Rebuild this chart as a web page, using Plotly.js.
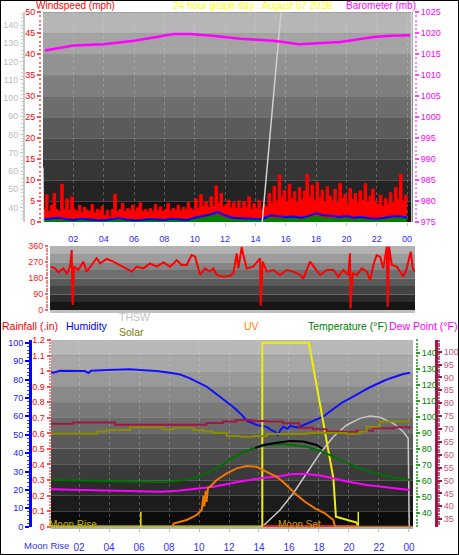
<!DOCTYPE html>
<html><head><meta charset="utf-8">
<script src="https://cdn.plot.ly/plotly-3.0.1.min.js"></script>
<style>html,body{margin:0;padding:0;background:#fff}#chart{width:459px;height:555px}</style>
</head><body><div id="chart"></div>
<script>
// ---------------- DATA ----------------
const hourTicks = [2,4,6,8,10,12,14,16,18,20,22,24];
const hourLabels = ['02','04','06','08','10','12','14','16','18','20','22','00'];

// Wind gust (mph), one value per 10 minutes from 00:00
const gustVals = [
 3,6.5,2.5,4,6.8,3,
 2.5,9,3,5.5,2.8,6,
 3,2.5,4,2.2,3.5,2.8,
 2.5,4.2,2.2,3,2.6,3.8,
 1.5,2.8,1.2,3,6.6,2.4,
 3,4.5,2.5,3.2,2.8,4,
 2.6,3.4,4.6,2.5,3,2.4,
 3.2,2.6,4.2,2.8,3.6,2.5,
 3,4.4,2.6,3.2,2.8,4,
 2.7,3.5,2.9,4.6,3.3,2.8,
 5.5,3.2,6.5,3.8,4.8,3.5,
 6,3.8,8.6,4.5,6.8,3.6,
 4.2,5.2,3.4,4.6,3.2,5,
 3.2,4.8,3.5,6,3,4.4,
 3.3,5.2,3,4.2,3.6,6.8,
 4.5,8.5,5,11.2,6,7.5,
 4.8,9,5.5,7.2,4.6,8.2,
 5.2,7.4,11.4,6,8.8,5,
 9.5,5.8,7.6,4.8,8.4,6.2,
 5,7.8,4.6,9.2,5.6,6.6,
 4.4,8,5.4,6.8,4.6,7.4,
 5.2,9.1,4.8,6.2,7.8,5,
 4.2,6.4,3.8,5.6,4.4,7,
 4.6,8.2,5.4,11.4,5,6.4,
 4.5];

// Average wind speed (mph) and low wind, one value per 30 minutes
const windAvgVals = [0.6,0.8,1.0,0.7,0.5,0.8,0.6,0.5,0.4,0.7,0.9,0.6,0.4,0.5,0.7,0.6,0.5,0.8,0.6,0.5,
 1.0,1.4,1.8,2.4,1.6,1.0,0.9,0.8,0.7,0.8,1.6,1.4,1.2,1.3,1.0,1.4,2.1,1.6,1.5,1.2,1.4,1.0,1.2,0.9,0.8,1.0,1.3,1.4,1.1];
const windLowVals = [0.4,0.6,0.5,0.3,0.4,0.5,0.3,0.2,0.3,0.5,0.4,0.3,0.2,0.4,0.3,0.5,0.3,0.4,0.3,0.5,
 0.7,0.9,1.4,1.7,1.0,0.6,0.5,0.5,0.4,0.5,1.0,0.8,0.7,0.9,0.6,1.0,1.4,1.0,0.9,0.7,0.9,0.6,0.8,0.5,0.4,0.6,0.9,1.0,0.7];

// Barometer (mb)
const baroTimes = [0.13,2,4,6,7.3,8.6,9.7,11.2,13,15.2,16.9,18.5,19.6,20.7,21.8,22.9,24.2];
const baroVals  = [1015.9,1017.1,1017.4,1018.2,1019.0,1019.8,1019.8,1019.4,1018.7,1018.2,1017.4,1017.7,1017.9,1018.5,1019.1,1019.4,1019.5];

// Grey series on the outer left scale of the top panel
const topGreyTimes = [0,0.06,14.3,14.44,15.69,15.8,24.28,24.32];
const topGreyVals  = [62,10,10,31,147,170,170,10];

// Wind direction (degrees)
const dirTimes = [0.04,0.33,0.55,0.88,1.11,1.33,1.44,1.50,1.59,1.88,2.21,2.43,2.76,3.09,3.32,3.76,4.20,4.64,5.08,5.42,5.75,6.19,6.63,7.07,7.52,7.96,8.40,8.73,9.06,9.39,9.62,9.84,9.95,10.28,10.61,10.83,11.05,11.49,11.94,12.16,12.27,12.38,12.49,12.71,12.82,13.04,13.48,13.93,13.97,14.10,14.37,14.81,15.25,15.69,16.14,16.58,16.80,17.24,17.57,17.90,18.35,18.79,19.12,19.45,19.78,19.89,19.92,20.07,20.34,20.67,21.0,21.22,21.44,21.66,21.88,22.10,22.33,22.39,22.48,22.66,22.99,23.21,23.43,23.65,23.92,24.05,24.20];
const dirVals  = [244,234,212,234,206,244,337,28,244,225,272,216,253,291,262,287,272,253,234,216,244,234,262,244,268,244,281,253,253,309,300,234,197,234,216,234,197,187,193,206,272,319,234,353,309,234,244,291,24,272,216,225,197,225,216,197,178,272,234,197,225,225,187,225,197,319,9,206,197,234,216,169,253,309,300,234,356,19,356,253,244,216,187,234,328,234,216];

// Bottom panel
const humTimes = [0.13,0.29,0.73,1.62,2.4,2.62,2.8,3.84,4.73,5.4,6.07,6.6,7.18,8.07,8.73,9.4,9.96,10.5,10.96,11.4,11.85,12.2,12.51,12.85,13.18,13.5,13.85,14.2,14.51,14.8,15.07,15.25,15.45,15.62,15.9,16.1,16.29,16.6,16.96,17.3,17.62,17.95,18.29,18.7,19.18,19.6,20.07,20.5,20.96,21.4,21.85,22.3,22.73,23.2,23.62,24.07];
const humVals  = [84.0,83.7,84.8,84.8,84.6,83.5,84.8,85.2,85.5,85.6,85.2,85.0,84.6,83.7,82.8,80.6,78.5,76.2,73.4,70.8,67.9,65.6,63.4,60.8,57.6,56.5,55.3,54.8,54.3,52.6,51.6,49.8,52.8,54.3,53.2,55.0,54.3,54.0,55.3,56.3,57.6,58.6,59.8,62.5,65.6,67.8,69.8,71.9,73.9,75.8,77.6,79.2,80.6,81.9,83.0,83.7];

const tempTimes = [0.13,2,4,5.5,7.4,8.29,9.18,10.07,10.96,11.85,12.73,13.62,14.51,15.4,16.29,17.18,18.07,18.96,19.85,20.73,21.62,22.51,23.4,24.07];
const tempVals  = [60.8,60.6,60.2,59.8,59.4,59.8,61.2,63.3,67.1,72.3,77.1,80.6,82.7,83.3,82.7,81.6,79.1,75.4,71.6,68.1,65.4,63.3,61.9,60.8];

const heatTimes = [13.75,14.29,15.18,16.07,16.96,17.84,18.24];
const heatVals  = [80.9,82.7,84.1,85.2,84.8,82.7,80.4];

const dewTimes = [0.13,2,4,6,7.4,8.6,9.18,10.96,12.73,14.07,15.4,16.29,17.18,18.07,18.96,19.85,21.18,22.51,24.07];
const dewVals  = [55.0,54.7,54.1,53.6,53.5,54.1,54.8,56.6,59.8,61.9,63.3,64.6,64.6,63.6,61.9,59.8,57.7,56.2,54.6];

const indoorTimes = [0.13,1.5,1.6,4.3,4.4,9,10.5,11.6,12.5,13.5,14.5,15.6,16.7,17.6,18.5,19.6,20.5,21.6,23,24.1];
const indoorVals  = [72.0,72.0,72.5,72.5,71.6,71.6,72.3,72.9,73.5,73.1,72.9,72.2,70.5,69.9,69.0,68.8,69.3,70.3,70.7,70.9];

const solarTimes = [0.13,2.73,3.18,3.84,5.4,7.4,7.62,8.29,9.62,10.29,10.96,11.85,12.73,13.62,14.51,17.18,19.85,20.73,21.18,22.07,24.07];
const solarVals  = [68.1,68.1,69.0,69.6,70.7,70.7,69.9,70.5,69.6,69.0,68.4,67.3,67.0,67.3,68.0,68.4,68.1,69.0,70.9,72.9,72.9];

const uvTimes = [8.25,8.3,9.18,9.4,9.84,10.18,10.3,10.35,10.45,10.5,10.6,10.73,11.18,11.85,12.51,13.18,13.85,14.51,15.18,15.73,16.4,17.07,17.73,18.4,18.96,19.07,24.27];
const uvVals  = [0,0.2,0.43,0.54,0.75,1.07,2.0,1.3,2.3,1.6,2.5,2.57,3.0,3.43,3.75,3.9,3.85,3.53,3.21,2.78,2.14,1.6,1.18,0.86,0.43,0,0];

const thswTimes = [14.22,15.4,16.29,17.18,18.07,18.96,19.85,20.73,21.4,22.07,22.96,23.62,23.95,24.02];
const thswVals  = [0,9.1,18.2,29.0,39.9,48.9,55.3,58.9,60.2,59.5,56.2,51.6,48.0,0];

const moonTimes = [14.22,14.22,17.33,18.96,19.13,20.51,20.62];
const moonVals  = [0,100,100,26.3,5.4,2.2,0];

const moonUpSpan   = [0.13,20.62];
const moonSetSpan  = [14.27,20.62];
const moonEventTimes = [6.12,20.62];
const rainVals = [0,0];

// ---------------- LAYOUT HELPERS ----------------
const W = 459, H = 555;
const px = x => x / W;
const py = y => 1 - y / H;
const gustTimes = gustVals.map((_, i) => i / 6);
const halfHour = windAvgVals.map((_, i) => i / 2);

function bands(xr, yr, n, top, bottom) {
  const s = [];
  for (let i = 0; i < n; i++) {
    const g = Math.round(top + (bottom - top) * i / (n - 1));
    s.push({type:'rect', xref:xr, yref:yr, x0:0, x1:1, y0:1-(i+1)/n, y1:1-i/n,
            fillcolor:`rgb(${g},${g},${g})`, line:{width:0}, layer:'below'});
  }
  return s;
}
const F = 'Arial, "Liberation Sans", sans-serif';
function ann(text, x, y, color, size, xanchor) {
  return {text, x:px(x), y:py(y), xref:'paper', yref:'paper', showarrow:false,
          xanchor:xanchor||'left', yanchor:'middle', font:{family:F, color, size}};
}

const traces = [
  // top panel
  {x:gustTimes, y:gustVals, type:'scatter', mode:'lines', line:{color:'#ff0000', width:1, shape:'hv'}, fill:'tozeroy', fillcolor:'#ff0000', xaxis:'x', yaxis:'y'},
  {x:halfHour, y:windLowVals, type:'scatter', mode:'lines', line:{color:'#008000', width:1}, fill:'tozeroy', fillcolor:'#008000', xaxis:'x', yaxis:'y'},
  {x:halfHour, y:windAvgVals, type:'scatter', mode:'lines', line:{color:'#0000ff', width:2}, xaxis:'x', yaxis:'y'},
  {x:baroTimes, y:baroVals, type:'scatter', mode:'lines', line:{color:'#ff00ff', width:2.5}, xaxis:'x', yaxis:'y3'},
  {x:topGreyTimes, y:topGreyVals, type:'scatter', mode:'lines', line:{color:'#d0d0d0', width:1.5}, xaxis:'x', yaxis:'y2'},
  // middle panel
  {x:dirTimes, y:dirVals, type:'scatter', mode:'lines', line:{color:'#ff0000', width:2}, xaxis:'x2', yaxis:'y4'},
  // bottom panel
  {x:indoorTimes, y:indoorVals, type:'scatter', mode:'lines', line:{color:'#a01846', width:2, shape:'hv'}, xaxis:'x3', yaxis:'y9'},
  {x:solarTimes, y:solarVals, type:'scatter', mode:'lines', line:{color:'#8c8c00', width:2, shape:'hv'}, xaxis:'x3', yaxis:'y9'},
  {x:tempTimes, y:tempVals, type:'scatter', mode:'lines', line:{color:'#007000', width:2}, xaxis:'x3', yaxis:'y8'},
  {x:heatTimes, y:heatVals, type:'scatter', mode:'lines', line:{color:'#000000', width:2}, xaxis:'x3', yaxis:'y8'},
  {x:dewTimes, y:dewVals, type:'scatter', mode:'lines', line:{color:'#ff00ff', width:2}, xaxis:'x3', yaxis:'y8'},
  {x:humTimes, y:humVals, type:'scatter', mode:'lines', line:{color:'#1010ff', width:2}, xaxis:'x3', yaxis:'y6'},
  {x:thswTimes, y:thswVals, type:'scatter', mode:'lines', line:{color:'#c8c8c8', width:1.5}, xaxis:'x3', yaxis:'y6'},
  {x:uvTimes, y:uvVals, type:'scatter', mode:'lines', line:{color:'#f07800', width:2}, xaxis:'x3', yaxis:'y10'},
  {x:moonTimes, y:moonVals, type:'scatter', mode:'lines', line:{color:'#f0f000', width:2}, xaxis:'x3', yaxis:'y6'},
  {x:moonUpSpan, y:rainVals, type:'scatter', mode:'lines', line:{color:'#f0f000', width:2.5}, xaxis:'x3', yaxis:'y7'},
  {x:moonSetSpan, y:rainVals, type:'scatter', mode:'lines', line:{color:'#ff0000', width:3}, xaxis:'x3', yaxis:'y7'},
  {x:[moonEventTimes[0],moonEventTimes[0],null,moonEventTimes[1],moonEventTimes[1]], y:[0,0.095,null,0,0.095], type:'scatter', mode:'lines', line:{color:'#e8e800', width:1.5}, xaxis:'x3', yaxis:'y7'}
];

const gridX = {showgrid:true, gridcolor:'rgba(215,215,215,0.3)', griddash:'dot', gridwidth:1, zeroline:false};
const layout = {
  width:W, height:H, margin:{l:0,r:0,t:0,b:0}, paper_bgcolor:'#ffffff', plot_bgcolor:'#202020',
  showlegend:false, font:{family:F},
  xaxis: Object.assign({domain:[px(43),px(413)], range:[0,24.39], anchor:'y', tickmode:'array', tickvals:hourTicks, ticktext:hourLabels,
          tickfont:{color:'#2a2aff', size:9}, ticks:'outside', ticklen:3, tickcolor:'#c0c0c0', ticklabelstandoff:5, showline:false}, gridX),
  yaxis: {domain:[py(222),py(12.3)], range:[0,50], anchor:'free', position:px(41), side:'left', tickmode:'linear', tick0:0, dtick:5,
          ticks:'outside', ticklen:4, tickwidth:2, tickcolor:'#ff5050', tickfont:{color:'#ff0000', size:9},
          minor:{dtick:1, ticklen:2, tickwidth:2, tickcolor:'#ff7070', ticks:'outside', showgrid:false},
          showgrid:true, gridcolor:'rgba(215,215,215,0.25)', zeroline:false, showline:false},
  yaxis2: {overlaying:'y', range:[32.1,147], anchor:'free', position:px(24), side:'left', tickmode:'linear', tick0:40, dtick:10,
          ticks:'outside', ticklen:3, tickcolor:'#c8c8c8', tickfont:{color:'#bdbdbd', size:9}, showline:true, linecolor:'#c8c8c8', linewidth:2,
          minor:{dtick:2, ticklen:2, tickcolor:'#d0d0d0', ticks:'outside', showgrid:false}, showgrid:false, zeroline:false},
  yaxis3: {overlaying:'y', range:[975,1025], anchor:'free', position:px(414), side:'right', tickmode:'linear', tick0:975, dtick:5,
          ticks:'outside', ticklen:4, tickwidth:2, tickcolor:'#ff40ff', tickfont:{color:'#ff00ff', size:9},
          minor:{dtick:1, ticklen:2, tickwidth:2, tickcolor:'#ff80ff', ticks:'outside', showgrid:false}, showgrid:false, zeroline:false},

  xaxis2: Object.assign({domain:[px(50),px(415)], range:[0,24.2], anchor:'y4', tickmode:'array', tickvals:hourTicks, showticklabels:false, ticks:'',
          showline:true, linecolor:'#c0c0c0', linewidth:3}, gridX, {showgrid:false}),
  yaxis4: {domain:[py(310),py(246)], range:[0,360], anchor:'free', position:px(48), side:'left', tickmode:'array', tickvals:[0,90,180,270,360],
          ticks:'outside', ticklen:3, tickwidth:2, tickcolor:'#ff6060', tickfont:{color:'#ff2020', size:9},
          minor:{tickmode:'linear', tick0:0, dtick:15, ticklen:2, ticks:'outside', tickcolor:'#ff8080', showgrid:false},
          showgrid:true, gridcolor:'rgba(215,215,215,0.35)', zeroline:false},
  yaxis5: {overlaying:'y4', range:[0,360], anchor:'free', position:px(425), side:'right', tickmode:'array', tickvals:[0,90,180,270,360],
          ticktext:['N','E','S','W','N'], ticks:'', tickfont:{color:'#ff0000', size:15}, showgrid:false, zeroline:false},

  xaxis3: Object.assign({domain:[px(51),px(413)], range:[0.13,24.27], anchor:'y6', tickmode:'array', tickvals:hourTicks, ticktext:hourLabels,
          tickfont:{color:'#3030ff', size:10}, ticks:'outside', ticklen:3, tickcolor:'#c0c0c0', ticklabelstandoff:7,
          showline:true, linecolor:'#b0b0b0', linewidth:2}, gridX),
  yaxis6: {domain:[py(526.7),py(340)], range:[0,101.5], anchor:'free', position:px(30), side:'left', tickmode:'linear', tick0:0, dtick:10,
          ticks:'outside', ticklen:4, tickwidth:2, tickcolor:'#0000ff', tickfont:{color:'#2020ff', size:9}, showline:true, linecolor:'#0000ff', linewidth:3,
          minor:{dtick:2, ticklen:2, tickwidth:1, ticks:'outside', tickcolor:'#4040ff', showgrid:false}, showgrid:false, zeroline:false},
  yaxis7: {overlaying:'y6', range:[0,1.2], anchor:'free', position:px(50.5), side:'left', tickmode:'linear', tick0:0, dtick:0.1,
          ticks:'outside', ticklen:4, tickwidth:2, tickcolor:'#ff5050', tickfont:{color:'#ff0000', size:9},
          minor:{dtick:0.02, ticklen:2, tickwidth:2, ticks:'outside', tickcolor:'#ff8080', showgrid:false},
          showgrid:true, gridcolor:'rgba(215,215,215,0.25)', zeroline:false},
  yaxis8: {overlaying:'y6', range:[31.6,148.3], anchor:'free', position:px(415), side:'right', tickmode:'linear', tick0:40, dtick:10,
          ticks:'outside', ticklen:4, tickwidth:2, tickcolor:'#30a030', tickfont:{color:'#008000', size:9},
          minor:{dtick:2, ticklen:2, tickwidth:2, ticks:'outside', tickcolor:'#50b050', showgrid:false}, showgrid:false, zeroline:false},
  yaxis9: {overlaying:'y6', range:[32.1,104.5], anchor:'free', position:px(436), side:'right', tickmode:'linear', tick0:35, dtick:5,
          ticks:'outside', ticklen:4, tickwidth:2, tickcolor:'#a01846', tickfont:{color:'#c8507a', size:9}, showline:true, linecolor:'#a01846', linewidth:3,
          minor:{dtick:1, ticklen:2, ticks:'outside', tickcolor:'#c06080', showgrid:false}, showgrid:false, zeroline:false},
  yaxis10: {overlaying:'y6', range:[0,12], visible:false},

  shapes: [].concat(
    bands('x domain','y domain',10,182,18),
    bands('x2 domain','y4 domain',8,178,22),
    bands('x3 domain','y6 domain',12,184,12),
    [{type:'rect', xref:'paper', yref:'paper', x0:0, x1:1, y0:0, y1:1, line:{color:'#000', width:2}, fillcolor:'rgba(0,0,0,0)', layer:'above'}]
  ),
  annotations: [
    ann('Windspeed (mph)', 34, 5, '#ff0000', 10),
    ann('24 hour graph day : August 07 2026', 171, 5, '#ffff00', 10),
    ann('Barometer (mb)', 418, 5, '#ff00ff', 10, 'right'),
    ann('Rainfall (.in)', 0, 326, '#ff0000', 10.5),
    ann('Humidity', 64, 326, '#0000ff', 10.5),
    ann('THSW', 117, 317, '#c0c0c0', 10.5),
    ann('Solar', 117, 332, '#808000', 10.5),
    ann('UV', 242, 326, '#ff8000', 10.5),
    ann('Temperature (°F)', 306, 326, '#008000', 10.5),
    ann('Dew Point (°F)', 387, 326, '#ff00ff', 10.5),
    ann('Moon Rise', 47, 524, '#c8b400', 10),
    ann('Moon Set', 276, 524, '#c8a000', 10),
    ann('Moon Rise', 22, 545, '#3030ff', 9.5)
  ]
};

Plotly.newPlot('chart', traces, layout, {staticPlot:true, displayModeBar:false});
</script>
</body></html>
